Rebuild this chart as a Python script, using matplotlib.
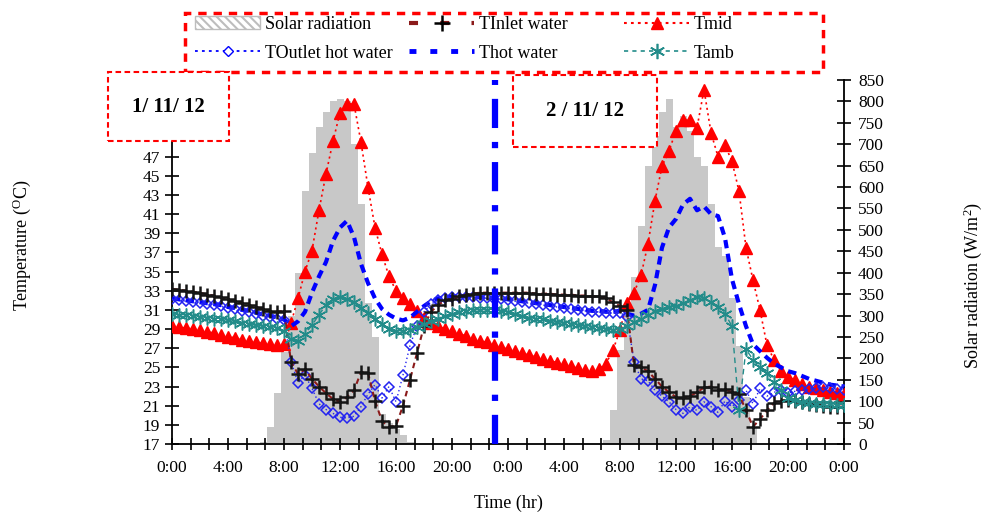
import numpy as np
import matplotlib
matplotlib.use('Agg')
import matplotlib.pyplot as plt
from matplotlib.lines import Line2D
from matplotlib.patches import Patch, Rectangle

plt.rcParams['font.family'] = ['Liberation Serif', 'DejaVu Serif']
plt.rcParams['mathtext.fontset'] = 'custom'
plt.rcParams['mathtext.rm'] = 'Liberation Serif'
plt.rcParams['mathtext.it'] = 'Liberation Serif:italic'
plt.rcParams['lines.scale_dashes'] = False
plt.rcParams['hatch.color'] = '#bdbdbd'
plt.rcParams['hatch.linewidth'] = 1.5

# ---------------- data (half-hour readings over two days) ----------------
hours = np.arange(0, 48.5, 0.5)

x_tick_labels = ['0:00', '4:00', '8:00', '12:00', '16:00', '20:00', '0:00',
                 '4:00', '8:00', '12:00', '16:00', '20:00', '0:00']
y_left_ticks = [17, 19, 21, 23, 25, 27, 29, 31, 33, 35, 37, 39, 41, 43, 45, 47]
y_right_ticks = [0, 50, 100, 150, 200, 250, 300, 350, 400, 450, 500, 550,
                 600, 650, 700, 750, 800, 850]

day_labels = ['1/ 11/ 12', '2 / 11/ 12']
day_split_hour = 23.1

solar = [0, 0, 0, 0, 0, 0, 0, 0,
         0, 0, 0, 0, 0, 5, 40, 120,
         215, 300, 400, 590, 680, 740, 775, 800,
         805, 800, 700, 560, 330, 250, 70, 50,
         35, 20, 5, 0, 0, 0, 0, 0,
         0, 0, 0, 0, 0, 0, 0, 0,
         0, 0, 0, 0, 0, 0, 0, 0,
         0, 0, 0, 0, 0, 0, 10, 80,
         220, 310, 390, 510, 650, 720, 775, 805,
         740, 765, 730, 670, 650, 560, 460, 440,
         340, 230, 110, 40, 0, 0, 0, 0,
         0, 0, 0, 0, 0, 0, 0, 0,
         0]

t_inlet = [33.2, 33.1, 33.0, 32.9, 32.8, 32.6, 32.5, 32.3,
           32.1, 31.9, 31.7, 31.5, 31.3, 31.1, 30.9, 30.8,
           30.9, 25.6, 24.3, 24.8, 23.8, 23.0, 22.3, 21.7,
           21.4, 21.9, 22.6, 24.5, 24.4, 21.5, 19.4, 18.8,
           18.9, 21.0, 23.7, 26.5, 29.3, 30.8, 31.5, 32.0,
           32.1, 32.4, 32.6, 32.7, 32.8, 32.8, 32.8, 32.8,
           32.8, 32.8, 32.8, 32.8, 32.7, 32.7, 32.7, 32.6,
           32.6, 32.6, 32.5, 32.5, 32.4, 32.4, 32.2, 31.8,
           31.4, 31.0, 25.2, 25.0, 24.6, 23.8, 23.0, 22.4,
           21.9, 21.8, 22.0, 22.4, 22.9, 23.0, 22.6, 22.7,
           22.4, 22.2, 20.5, 18.8, 19.6, 20.5, 21.3, 21.5,
           21.6, 21.5, 21.4, 21.2, 21.1, 21.0, 20.9, 20.9,
           20.9]

t_hot = [32.2, 32.1, 32.0, 31.9, 31.8, 31.7, 31.6, 31.5,
         31.3, 31.2, 31.0, 30.9, 30.7, 30.5, 30.4, 30.2,
         30.0, 29.3, 29.8, 30.8, 32.8, 34.5, 36.0, 38.2,
         39.6, 40.3, 38.6, 35.8, 33.8, 32.2, 31.1, 30.5,
         30.1, 29.9, 30.2, 30.8, 31.4, 31.9, 32.2, 32.3,
         32.4, 32.4, 32.4, 32.4, 32.3, 32.3, 32.2, 32.2,
         32.1, 32.0, 31.9, 31.8, 31.7, 31.6, 31.5, 31.4,
         31.3, 31.2, 31.1, 31.0, 30.9, 30.9, 30.8, 30.8,
         30.9, 30.6, 30.4, 30.6, 31.0, 33.6, 37.5, 39.6,
         40.5, 42.0, 42.6, 41.4, 41.8, 41.0, 40.8, 38.5,
         34.2, 31.6, 29.3, 27.4, 26.7, 26.0, 25.4, 25.0,
         24.6, 24.4, 24.1, 23.8, 23.6, 23.4, 23.2, 23.1,
         23.0]

t_outlet = [32.1, 32.0, 31.9, 31.8, 31.7, 31.6, 31.5, 31.4,
            31.2, 31.1, 30.9, 30.8, 30.6, 30.4, 30.3, 30.1,
            29.9, 25.6, 23.4, 24.2, 22.8, 21.2, 20.6, 20.2,
            19.8, 19.7, 19.9, 20.9, 22.2, 23.2, 21.8, 23.0,
            21.4, 24.2, 27.3, 29.3, 30.8, 31.6, 32.0, 32.2,
            32.3, 32.3, 32.3, 32.3, 32.2, 32.2, 32.1, 32.1,
            32.0, 31.9, 31.8, 31.7, 31.6, 31.5, 31.4, 31.3,
            31.2, 31.1, 31.0, 30.9, 30.8, 30.8, 30.7, 30.7,
            30.7, 30.3, 25.6, 23.8, 23.6, 22.6, 22.0, 21.4,
            20.6, 20.2, 20.9, 20.5, 21.4, 20.9, 20.3, 21.5,
            20.9, 21.6, 22.6, 21.2, 22.8, 22.0, 22.4, 22.6,
            22.3, 22.5, 22.6, 22.7, 22.8, 22.9, 22.8, 22.7,
            22.6]

t_mid = [29.3, 29.2, 29.1, 29.0, 28.9, 28.7, 28.6, 28.4,
         28.2, 28.1, 27.9, 27.8, 27.6, 27.5, 27.4, 27.3,
         27.4, 29.6, 32.2, 35.0, 37.2, 41.4, 45.2, 48.6,
         51.6, 52.5, 52.5, 48.5, 43.8, 39.6, 36.8, 34.5,
         33.0, 32.2, 31.6, 30.9, 30.2, 29.6, 29.3, 29.0,
         28.8, 28.5, 28.3, 28.0, 27.8, 27.6, 27.3, 27.1,
         26.9, 26.7, 26.5, 26.3, 26.1, 25.9, 25.7, 25.5,
         25.3, 25.1, 24.9, 24.7, 24.6, 24.8, 25.4, 26.8,
         28.9, 31.7, 32.8, 34.6, 37.9, 42.4, 46.0, 47.6,
         49.7, 50.8, 50.8, 50.0, 54.0, 49.5, 47.0, 48.2,
         46.5, 43.4, 37.5, 34.1, 31.0, 27.3, 25.8, 24.6,
         24.0, 23.7, 23.3, 23.0, 22.8, 22.6, 22.4, 22.3,
         22.2]

t_amb = [30.6, 30.5, 30.5, 30.4, 30.3, 30.2, 30.1, 30.0,
         29.9, 29.8, 29.6, 29.5, 29.4, 29.3, 29.2, 29.1,
         28.8, 28.0, 27.8, 28.5, 29.4, 30.5, 31.5, 32.1,
         32.3, 32.1, 31.8, 31.2, 30.7, 30.1, 29.5, 29.0,
         28.8, 28.8, 28.9, 29.2, 29.5, 29.8, 30.1, 30.4,
         30.6, 30.8, 30.9, 31.0, 31.0, 31.0, 31.0, 30.9,
         30.8, 30.6, 30.4, 30.2, 30.1, 30.0, 29.8, 29.7,
         29.6, 29.5, 29.4, 29.3, 29.2, 29.1, 29.0, 28.9,
         29.0, 29.3, 29.7, 30.1, 30.5, 30.9, 31.1, 31.3,
         31.4, 31.7, 32.0, 32.3, 32.2, 31.8, 31.3, 30.6,
         29.3, 20.6, 26.9, 25.8, 25.0, 24.4, 23.5, 22.6,
         21.8, 21.6, 21.4, 21.3, 21.2, 21.2, 21.2, 21.1,
         21.1]

# ---------------- colours ----------------
c_solar = '#c8c8c8'
c_inlet_line = '#8b1a1a'
c_red = '#ff0000'
c_blue = '#0000ff'
c_outlet = '#2323f0'
c_teal = '#238c8a'

W, H = 983, 516
fig = plt.figure(figsize=(W / 100, H / 100), dpi=100)
ax = fig.add_axes([172 / W, 1 - 444 / H, 672 / W, 364 / H])
ax2 = ax.twinx()
ax.set_zorder(ax2.get_zorder() + 1)
ax.patch.set_visible(False)

# solar radiation (right axis)
ax2.bar(hours, solar, width=0.5, color=c_solar, linewidth=0, align='center')
ax2.set_ylim(0, 850)

# temperatures (left axis)
ax.plot(hours, t_mid, color=c_red, ls=(0, (1.5, 2.5)), lw=1.2, marker='^',
        ms=8, mec=c_red, mfc=c_red, zorder=3)
ax.plot(hours, t_hot, color=c_blue, ls=(0, (6, 4)), lw=3, zorder=4)
ax.plot(hours, t_outlet, color=c_outlet, ls=(0, (1, 2)), lw=1, marker='D',
        ms=5, mfc='none', mec=c_outlet, mew=1.1, zorder=5)
ax.plot(hours, t_inlet, color=c_inlet_line, ls=(0, (4, 3)), lw=1.5, marker='+',
        ms=10, mec='#151515', mew=1.8, zorder=6)
ax.plot(hours, t_amb, color=c_teal, ls=(0, (4, 3)), lw=1, marker=(6, 2, 0),
        ms=10, mec=c_teal, mew=1.1, zorder=7)
ax.axvline(day_split_hour, color=c_blue, lw=4.5, ls=(0, (21, 10, 4.5, 10)), zorder=8)

ax.set_xlim(0, 48)
ax.set_ylim(17, 55)

ax.set_xticks(np.arange(0, 48.1, 4))
ax.set_xticklabels(x_tick_labels)
ax.set_xticks(np.arange(0, 48.1, 4 / 3), minor=True)
ax.tick_params(axis='x', which='both', direction='inout', length=9, width=1.2,
               labelsize=12.5, pad=7)
ax.set_yticks(y_left_ticks)
ax.tick_params(axis='y', direction='inout', length=10, width=1.2,
               labelsize=12.5, pad=3.5)
ax2.set_yticks(y_right_ticks)
ax2.tick_params(axis='y', direction='inout', length=10, width=1.2,
                labelsize=12.5, pad=5)

for s in ['top', 'right']:
    ax.spines[s].set_visible(False)
for s in ['top', 'left', 'bottom']:
    ax2.spines[s].set_visible(False)
for s in ['left', 'bottom']:
    ax.spines[s].set_linewidth(1.3)
ax2.spines['right'].set_linewidth(1.3)

# axis titles
fig.text(22 / W, 1 - 245 / H, 'Temperature ($^{\\rm O}$C)', rotation=90,
         ha='center', va='center', fontsize=13)
fig.text(973 / W, 1 - 285 / H, 'Solar radiation (W/m$^{2}$)', rotation=90,
         ha='center', va='center', fontsize=13)
fig.text(508 / W, 1 - 503 / H, 'Time (hr)', ha='center', va='center', fontsize=13)

# date boxes
def date_box(x0, y0, x1, y1, text):
    r = Rectangle((x0 / W, 1 - y1 / H), (x1 - x0) / W, (y1 - y0) / H,
                  transform=fig.transFigure, facecolor='white', edgecolor=c_red,
                  lw=1.5, ls=(0, (4, 2.5)), zorder=10)
    fig.add_artist(r)
    fig.text((x0 + x1) / 2 / W, 1 - (y0 + y1) / 2 / H, text, ha='center',
             va='center', fontsize=15, fontweight='bold', zorder=11)

date_box(108, 72, 229, 141, day_labels[0])
date_box(513, 75, 657, 147, day_labels[1])

# legend box
lr = Rectangle((185 / W, 1 - 72 / H), 638 / W, 59 / H, transform=fig.transFigure,
               facecolor='white', edgecolor=c_red, lw=2.5, ls=(0, (6, 5)), zorder=4)
fig.add_artist(lr)

h_solar = Patch(facecolor='white', edgecolor='#bdbdbd', hatch='\\\\\\\\', lw=1)
h_inlet = Line2D([], [], color=c_inlet_line, ls=(0, (6.5, 16)), lw=3, marker='+',
                 ms=11, mec='k', mew=1.8)
h_mid = Line2D([], [], color=c_red, ls=(0, (2, 3)), lw=1.5, marker='^', ms=8,
               mec=c_red, mfc=c_red)
h_out = Line2D([], [], color=c_blue, ls=(0, (2, 3)), lw=1.3, marker='D', ms=5,
               mfc='white', mec=c_blue, mew=1)
h_hot = Line2D([], [], color=c_blue, ls=(0, (5, 10)), lw=3.5)
h_amb = Line2D([], [], color=c_teal, ls=(0, (3, 3)), lw=1.2, marker=(6, 2, 0),
               ms=11, mec=c_teal, mew=1.2)

leg_kw = dict(loc='upper left', frameon=False, borderpad=0, borderaxespad=0,
              handlelength=3.6, handletextpad=0.25, labelspacing=0.65,
              fontsize=13, numpoints=1)
cols = [([h_solar, h_out], ['Solar radiation', 'TOutlet hot water'], 195),
        ([h_inlet, h_hot], ['TInlet water', 'Thot water'], 409),
        ([h_mid, h_amb], ['Tmid', 'Tamb'], 624)]
for hs, ls_, xpx in cols:
    lg = fig.legend(hs, ls_, bbox_to_anchor=(xpx / W, 1 - 16 / H), **leg_kw)
    lg.set_zorder(6)

fig.savefig('out.png', dpi=100)
